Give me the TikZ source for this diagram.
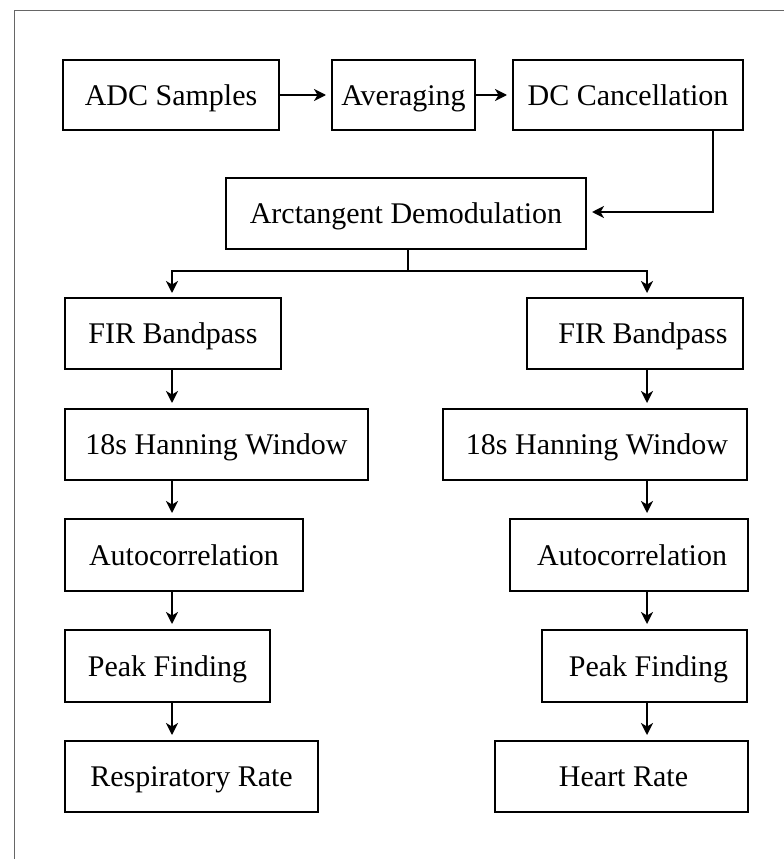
\documentclass[tikz,border=0pt]{standalone}
\usepackage{fontspec}
\setmainfont{Liberation Serif}
\usetikzlibrary{arrows.meta}
\begin{document}
\begin{tikzpicture}[x=1pt,y=-1pt,
  blk/.style={draw=black,line width=2.5pt,rectangle,inner sep=0pt,outer sep=0pt,
    font=\fontsize{30}{36}\selectfont,text height=20pt,text depth=0pt},
  arr/.style={line width=2pt,-{Stealth[length=12pt,width=12pt,inset=3.5pt]},shorten >=6pt},
  lin/.style={line width=2pt}]
\useasboundingbox (0,0) rectangle (784,859);
\draw[gray!80!black,line width=1pt] (14.5,859) -- (14.5,11) -- (784,11);
% top row
\node[blk,minimum width=216pt,minimum height=70pt] (adc) at (171,95) {ADC Samples};
\node[blk,minimum width=143pt,minimum height=70pt] (avg) at (403.5,95) {Averaging};
\node[blk,minimum width=230pt,minimum height=70pt] (dc) at (628,95) {DC Cancellation};
\node[blk,minimum width=360pt,minimum height=71pt] (atan) at (406,213.5) {Arctangent Demodulation};
% left column
\node[blk,minimum width=216pt,minimum height=71pt] (fir1) at (173,333.5) {FIR Bandpass};
\node[blk,minimum width=303pt,minimum height=71pt] (han1) at (216.5,444.5) {18s Hanning Window};
\node[blk,minimum width=238pt,minimum height=72pt] (aut1) at (184,555) {Autocorrelation};
\node[blk,minimum width=205pt,minimum height=72pt] (pk1) at (167.5,666) {Peak Finding};
\node[blk,minimum width=253pt,minimum height=71pt] (rr) at (191.5,776.5) {Respiratory Rate};
% right column
\node[blk,minimum width=216pt,minimum height=71pt] (fir2) at (635,333.5) {\hspace*{16pt}FIR Bandpass};
\node[blk,minimum width=304pt,minimum height=71pt] (han2) at (595,444.5) {\hspace*{4pt}18s Hanning Window};
\node[blk,minimum width=238pt,minimum height=72pt] (aut2) at (629,555) {\hspace*{6pt}Autocorrelation};
\node[blk,minimum width=205pt,minimum height=72pt] (pk2) at (644.5,666) {\hspace*{8pt}Peak Finding};
\node[blk,minimum width=253pt,minimum height=71pt] (hr) at (621.5,776.5) {\hspace*{4pt}Heart Rate};
% helper coordinates
\coordinate (c1) at (172,0);
\coordinate (c2) at (647,0);
\coordinate (dcx) at (713,0);
\coordinate (split) at (408,271);
% connectors
\draw[arr] (adc.east) -- (avg.west);
\draw[arr] (avg.east) -- (dc.west);
\draw[arr] (dc.south -| dcx) |- ([yshift=1.5pt]atan.east);
\draw[lin] (atan.south -| split) -- (split);
\draw[arr,shorten >=5pt] (split) -| (fir1.north -| c1);
\draw[arr,shorten >=5pt] (split) -| (fir2.north -| c2);
\draw[arr] (fir1.south -| c1) -- (han1.north -| c1);
\draw[arr] (han1.south -| c1) -- (aut1.north -| c1);
\draw[arr] (aut1.south -| c1) -- (pk1.north -| c1);
\draw[arr] (pk1.south -| c1) -- (rr.north -| c1);
\draw[arr] (fir2.south -| c2) -- (han2.north -| c2);
\draw[arr] (han2.south -| c2) -- (aut2.north -| c2);
\draw[arr] (aut2.south -| c2) -- (pk2.north -| c2);
\draw[arr] (pk2.south -| c2) -- (hr.north -| c2);
\end{tikzpicture}
\end{document}
